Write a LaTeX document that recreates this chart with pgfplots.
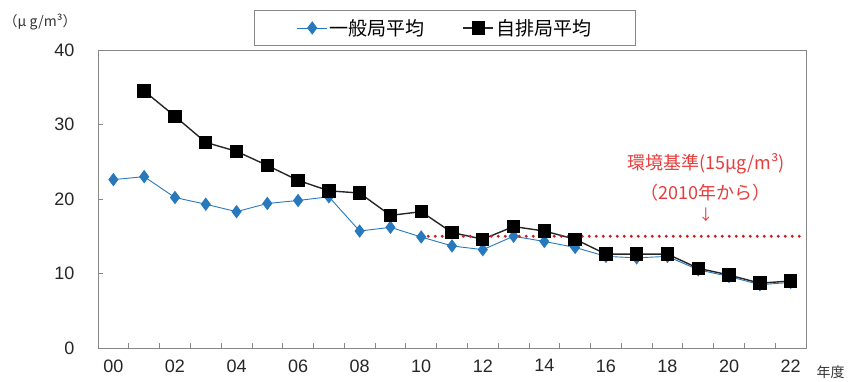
\documentclass[border=0pt]{standalone}
\usepackage{pgfplots}
\pgfplotsset{compat=1.18}
\usepackage{fontspec}
\setmainfont{Liberation Sans}
\newfontfamily\jp{Noto Sans CJK JP}
\definecolor{bluec}{RGB}{40,120,190}
\definecolor{axgray}{RGB}{135,135,135}
\definecolor{redl}{RGB}{200,30,30}
\definecolor{redt}{RGB}{230,60,60}
\pgfplotstableread{
x  g     j
0  22.6  nan
1  23.0  34.5
2  20.2  31.1
3  19.3  27.6
4  18.3  26.4
5  19.4  24.5
6  19.8  22.5
7  20.3  21.1
8  15.7  20.8
9  16.2  17.8
10 14.9  18.3
11 13.7  15.5
12 13.2  14.6
13 15.0  16.3
14 14.3  15.7
15 13.5  14.6
16 12.3  12.6
17 12.1  12.6
18 12.3  12.6
19 10.5  10.7
20 9.6   9.8
21 8.5   8.7
22 8.8   9.0
}\datatbl
\pgfplotstableread{
x  y
10 15
22.5 15
}\stdtbl
\begin{document}
\begin{tikzpicture}
\begin{axis}[
  scale only axis,
  width=708pt, height=298pt,
  xmin=-0.5, xmax=22.5,
  ymin=0, ymax=40,
  clip=false,
  axis line style={axgray, line width=0.8pt},
  tick style={axgray, line width=0.8pt},
  xtick={0,2,...,22},
  xticklabels={00,02,04,06,08,10,12,14,16,18,20,22},
  major x tick style={draw=none},
  minor xtick={0.5,1.5,...,21.5},
  minor tick length=5pt,
  ytick={0,10,20,30,40},
  major tick length=5pt,
  xtick pos=bottom, ytick pos=left,
  tick align=inside,
  /pgf/number format/assume math mode=true,
  ticklabel style={font=\fontsize{18}{20}\selectfont, text=black!85},
  xticklabel shift=8pt,
  yticklabel shift=20pt,
  legend columns=2,
  legend style={at={(0.49,1)}, anchor=south, yshift=4pt, draw=axgray, line width=0.6pt,
    font=\jp\fontsize{19}{21}\selectfont, inner xsep=42pt, inner ysep=7pt,
    /tikz/every even column/.append style={column sep=36pt}},
  legend image code/.code={\draw[mark repeat=2,mark phase=2] plot coordinates {(0pt,0pt) (15pt,0pt) (30pt,0pt)};},
]
\addplot[bluec, line width=0.9pt, mark=diamond*, mark size=6pt, mark options={fill=bluec, draw=bluec}]
  table[x=x, y=g] {\datatbl};
\addlegendentry{一般局平均}
\addplot[black!85, line width=1.4pt, mark=square*, mark size=6pt, mark options={fill=black, draw=black}, unbounded coords=jump]
  table[x=x, y=j] {\datatbl};
\addlegendentry{自排局平均}
\addplot[redl, line width=3.2pt, line cap=round, dash pattern=on 0pt off 7pt, forget plot]
  table[x=x, y=y] {\stdtbl};
\node[text=redt, font=\jp\fontsize{18}{20}\selectfont] at (axis cs:19.25,24.8) {環境基準(15μg/m³)};
\node[text=redt, font=\jp\fontsize{18}{20}\selectfont] at (axis cs:19.25,20.8) {（2010年から）};
\node[text=redt, font=\jp\fontsize{15}{17}\selectfont] at (axis cs:19.25,17.9) {↓};
\node[text=black!80, font=\jp\fontsize{14}{16}\selectfont] at (axis cs:-2.38,43.7) {（μ g/m³）};
\node[text=black!80, font=\jp\fontsize{14}{16}\selectfont] at (axis cs:23.3,-3.2) {年度};
\end{axis}
\pgfresetboundingbox
\path (-98pt,-33pt) rectangle (750pt,348pt);
\end{tikzpicture}
\end{document}
